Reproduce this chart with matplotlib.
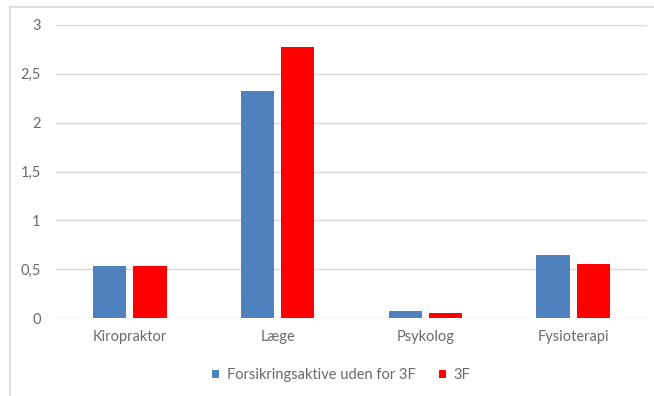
import matplotlib
matplotlib.use("Agg")
import matplotlib.pyplot as plt
from matplotlib.lines import Line2D
import numpy as np

categories = ["Kiropraktor", "Læge", "Psykolog", "Fysioterapi"]
series_names = ["Forsikringsaktive uden for 3F", "3F"]
uden_for_3f = [0.53, 2.32, 0.07, 0.64]
medlemmer_3f = [0.53, 2.77, 0.05, 0.55]
y_ticks = [0, 0.5, 1, 1.5, 2, 2.5, 3]
y_tick_labels = ["0", "0,5", "1", "1,5", "2", "2,5", "3"]

BLUE = "#4f81bd"
RED = "#ff0000"
TEXT = "#6a6a6a"
GRID = "#d9d9d9"

plt.rcParams["font.family"] = ["Lato", "DejaVu Sans"]
FS = 10.5

W, H = 654, 396
fig = plt.figure(figsize=(W / 100, H / 100), dpi=100)
ax = fig.add_axes([56 / W, 78 / H, (647 - 56) / W, (318 - 25) / H])

x = np.arange(len(categories))
width = 0.225
offset = 0.137
ax.bar(x - offset, uden_for_3f, width, color=BLUE, label=series_names[0], zorder=3)
ax.bar(x + offset, medlemmer_3f, width, color=RED, label=series_names[1], zorder=3)

ax.set_xlim(-0.5, len(categories) - 0.5)
ax.set_ylim(0, 3)
ax.set_yticks(y_ticks)
ax.set_yticklabels(y_tick_labels)
ax.set_xticks(x)
ax.set_xticklabels(categories)
ax.yaxis.grid(True, color=GRID, linewidth=1.0, zorder=0)
for s in ax.spines.values():
    s.set_visible(False)
ax.tick_params(axis="both", length=0, colors=TEXT, labelsize=FS)
ax.tick_params(axis="y", pad=11)
ax.tick_params(axis="x", pad=9)

fig.legend(loc="center", bbox_to_anchor=(341 / W, 1 - 375 / H), ncol=2,
           frameon=False, fontsize=FS, labelcolor=TEXT, handlelength=0.5,
           handleheight=0.5, handletextpad=0.5, columnspacing=1.6)

# light outer frame around the chart area
fig.add_artist(Line2D([10 / W, 1], [1 - 7 / H, 1 - 7 / H], transform=fig.transFigure,
                      color=GRID, linewidth=1.2))
fig.add_artist(Line2D([10 / W, 10 / W], [0, 1 - 7 / H], transform=fig.transFigure,
                      color=GRID, linewidth=1.2))

fig.savefig("out.png", dpi=100)
